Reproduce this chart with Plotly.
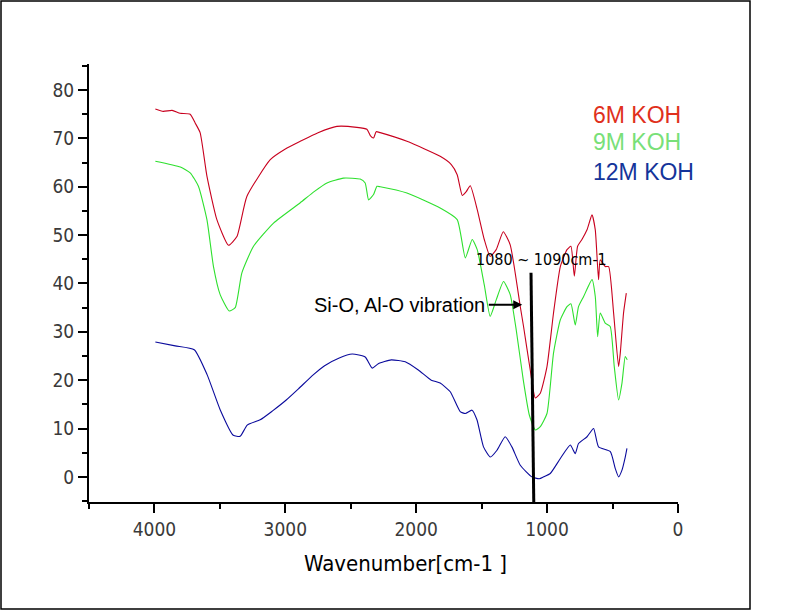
import plotly.graph_objects as go

# ---- data ----
red_wn = [3993, 3933, 3865, 3804, 3727, 3689, 3651, 3599, 3523, 3434, 3370, 3294, 3115, 3000, 2886,
          2750, 2606, 2453, 2377, 2351, 2326, 2306, 2275, 2071, 1817, 1732, 1687, 1648, 1618, 1587,
          1534, 1480, 1435, 1389, 1335, 1282, 1205, 1180, 1129, 1090, 1052, 1001, 951, 899, 848, 818,
          792, 767, 734, 695, 657, 632, 607, 594, 556, 530, 492, 454, 441, 416, 395]
red_val = [76.1, 75.6, 75.8, 75.2, 75.0, 73.2, 71.2, 62.2, 53.2, 47.9, 49.7, 58.0, 65.6, 67.8, 69.4,
           71.2, 72.5, 72.3, 71.9, 70.6, 70.1, 71.4, 71.2, 69.4, 66.3, 64.6, 62.5, 58.2, 59.0, 60.2,
           55.3, 49.1, 45.6, 47.0, 50.7, 48.0, 35.2, 31.1, 22.1, 16.3, 17.3, 22.8, 33.9, 43.5, 47.0, 47.7,
           41.5, 47.7, 49.1, 51.1, 54.2, 51.1, 40.8, 44.9, 43.5, 43.5, 33.9, 22.8, 25.6, 33.9, 38.0]

green_wn = [3993, 3802, 3727, 3664, 3599, 3549, 3498, 3429, 3383, 3332, 3243, 3090, 2886, 2780, 2682,
            2556, 2428, 2390, 2364, 2326, 2300, 2275, 2071, 1817, 1687, 1625, 1572, 1534, 1480, 1435,
            1389, 1333, 1282, 1236, 1182, 1136, 1090, 1052, 1001, 951, 899, 848, 818, 785, 760, 721,
            657, 632, 614, 594, 556, 518, 487, 454, 428, 403, 388]
green_val = [65.3, 64.1, 62.9, 60.1, 53.2, 43.5, 37.7, 34.3, 35.0, 42.2, 47.7, 52.5, 56.7, 59.0, 60.8,
             61.8, 61.6, 60.8, 57.3, 58.4, 60.1, 60.0, 58.7, 55.6, 53.2, 45.3, 49.1, 47.0, 39.7, 33.2,
             36.6, 40.4, 37.7, 30.4, 20.0, 12.8, 9.7, 10.4, 13.1, 25.6, 32.5, 35.2, 35.8, 31.4, 35.2, 37.3,
             40.8, 37.3, 29.0, 33.9, 31.8, 31.1, 22.8, 15.9, 19.4, 24.9, 24.2]

blue_wn = [3993, 3841, 3696, 3597, 3498, 3398, 3345, 3291, 3192, 3100, 2993, 2900, 2787, 2700, 2588,
           2489, 2390, 2336, 2290, 2191, 2084, 1984, 1885, 1817, 1740, 1664, 1625, 1574, 1536, 1486,
           1434, 1383, 1320, 1269, 1205, 1116, 1060, 1027, 976, 899, 823, 785, 760, 695, 645, 607,
           517, 479, 454, 428, 403, 390]
blue_val = [27.9, 27.1, 26.3, 21.1, 13.9, 8.6, 8.4, 10.7, 11.8, 13.6, 15.9, 18.2, 21.1, 23.0, 24.6,
            25.4, 24.8, 22.5, 23.4, 24.2, 23.8, 22.1, 20.0, 19.4, 17.6, 13.5, 13.1, 13.8, 11.8, 6.2,
            4.1, 5.5, 8.3, 6.2, 2.4, 0.0, -0.4, 0.0, 0.7, 3.8, 6.6, 4.8, 6.9, 8.3, 10.0, 6.2,
            5.2, 1.7, 0.0, 1.4, 4.1, 5.9]

series_names = ["6M KOH", "9M KOH", "12M KOH"]
line_colors = ["#c8001e", "#2ee02e", "#0a0a9c"]
label_colors = ["#e0301c", "#78e078", "#14349a"]

x_ticks = [4000, 3000, 2000, 1000, 0]
y_ticks = [0, 10, 20, 30, 40, 50, 60, 70, 80]

marker_line_wn = [1123, 1102]
marker_line_val = [42.2, -5.2]
arrow_tip = (1190, 35.6)
arrow_tail_wn = 1457
band_label = "1080 ~ 1090cm-1"
band_label_pos = (1045, 44.9)
vib_label = "Si-O, Al-O vibration"

tick_font = "Liberation Sans Narrow, DejaVu Sans Condensed, Arial Narrow, sans-serif"
label_font = "Liberation Sans, Arial, sans-serif"

fig = go.Figure()
for wn, val, name, col in zip([red_wn, green_wn, blue_wn], [red_val, green_val, blue_val],
                              series_names, line_colors):
    fig.add_trace(go.Scatter(x=wn, y=val, mode="lines", name=name,
                             line=dict(color=col, width=1.1, shape="spline", smoothing=0.5),
                             showlegend=False))

# vertical marker line
fig.add_trace(go.Scatter(x=marker_line_wn, y=marker_line_val, mode="lines",
                         line=dict(color="black", width=3), showlegend=False))

axis_common = dict(showline=True, linecolor="black", linewidth=2, ticks="outside",
                   ticklen=9, tickwidth=2, tickcolor="black", showgrid=False, zeroline=False,
                   tickfont=dict(family=tick_font, size=19, color="#3a3a3a"))

fig.update_xaxes(range=[4500, 0], tickvals=x_ticks,
                 minor=dict(dtick=500, tick0=0, ticklen=5, tickwidth=2, tickcolor="black",
                            ticks="outside", showgrid=False),
                 **axis_common)
fig.update_yaxes(range=[-5.2, 85.4], tickvals=y_ticks,
                 minor=dict(dtick=5, tick0=0, ticklen=5, tickwidth=2, tickcolor="black",
                            ticks="outside", showgrid=False),
                 **axis_common)

ann = []
# x-axis title
ann.append(dict(text="Wavenumber[cm-1 ]", xref="paper", yref="paper", x=0.537, y=-0.14,
                xanchor="center", yanchor="middle", showarrow=False,
                font=dict(family=tick_font, size=22, color="black")))
# legend labels
for i, (name, col) in enumerate(zip(series_names, label_colors)):
    ann.append(dict(text=name, xref="paper", yref="paper", x=0.853, y=[0.884, 0.822, 0.753][i],
                    xanchor="left", yanchor="middle", showarrow=False,
                    font=dict(family=label_font, size=23, color=col)))
# band label
ann.append(dict(text=band_label, x=band_label_pos[0], y=band_label_pos[1], xref="x", yref="y",
                showarrow=False, xanchor="center", yanchor="middle",
                font=dict(family=tick_font, size=16, color="black")))
# vibration label with arrow
ann.append(dict(text="", x=arrow_tip[0], y=arrow_tip[1], ax=arrow_tail_wn, ay=arrow_tip[1],
                xref="x", yref="y", axref="x", ayref="y", showarrow=True,
                arrowhead=2, arrowsize=1, arrowwidth=1.8, arrowcolor="black"))
ann.append(dict(text=vib_label, x=arrow_tail_wn, y=arrow_tip[1], xref="x", yref="y",
                showarrow=False, xanchor="right", yanchor="middle",
                font=dict(family=label_font, size=20, color="black")))

fig.update_layout(
    width=802, height=614,
    margin=dict(l=89, r=124, t=64, b=112),
    paper_bgcolor="white", plot_bgcolor="white",
    annotations=ann,
    shapes=[dict(type="rect", xref="paper", yref="paper",
                 x0=(1 - 89) / 589, x1=(750 - 89) / 589,
                 y0=(502 - 609) / 438, y1=(502 - 1) / 438,
                 line=dict(color="black", width=1.5), layer="below")],
)

fig.write_html("out.html")
